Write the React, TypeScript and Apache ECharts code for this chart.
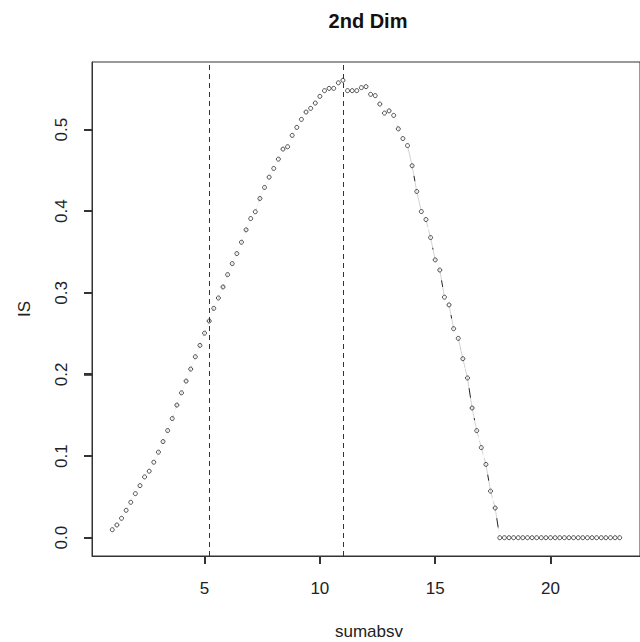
import React, { useEffect, useRef } from "react";
import * as echarts from "echarts";

const xValues = [
  1, 1.2, 1.4, 1.6, 1.8, 2, 2.2, 2.4, 2.6, 2.8,
  3, 3.2, 3.4, 3.6, 3.8, 4, 4.2, 4.4, 4.6, 4.8,
  5, 5.2, 5.4, 5.6, 5.8, 6, 6.2, 6.4, 6.6, 6.8,
  7, 7.2, 7.4, 7.6, 7.8, 8, 8.2, 8.4, 8.6, 8.8,
  9, 9.2, 9.4, 9.6, 9.8, 10, 10.2, 10.4, 10.6, 10.8,
  11, 11.2, 11.4, 11.6, 11.8, 12, 12.2, 12.4, 12.6, 12.8,
  13, 13.2, 13.4, 13.6, 13.8, 14, 14.2, 14.4, 14.6, 14.8,
  15, 15.2, 15.4, 15.6, 15.8, 16, 16.2, 16.4, 16.6, 16.8,
  17, 17.2, 17.4, 17.6, 17.8, 18, 18.2, 18.4, 18.6, 18.8,
  19, 19.2, 19.4, 19.6, 19.8, 20, 20.2, 20.4, 20.6, 20.8,
  21, 21.2, 21.4, 21.6, 21.8, 22, 22.2, 22.4, 22.6, 22.8,
  23,
];

const isValues = [
  0.0098, 0.0156, 0.0238, 0.0336, 0.0434, 0.054, 0.0638, 0.0745, 0.0815, 0.0925,
  0.1048, 0.1178, 0.1313, 0.146, 0.1625, 0.1775, 0.1919, 0.2066, 0.2217, 0.2356,
  0.2506, 0.2655, 0.281, 0.2937, 0.3072, 0.3223, 0.3358, 0.3481, 0.362, 0.3772,
  0.391, 0.3993, 0.4156, 0.4291, 0.4417, 0.4524, 0.4638, 0.4761, 0.479, 0.4929,
  0.5027, 0.5125, 0.5215, 0.526, 0.5325, 0.5407, 0.5477, 0.5505, 0.5505, 0.5573,
  0.5604, 0.5477, 0.5477, 0.5477, 0.5514, 0.5526, 0.5432, 0.5416, 0.5313, 0.5202,
  0.5229, 0.5174, 0.5009, 0.489, 0.4804, 0.4557, 0.4242, 0.3996, 0.3898, 0.3677,
  0.3404, 0.3279, 0.2947, 0.2852, 0.2561, 0.2442, 0.2193, 0.1957, 0.1589, 0.1312,
  0.1104, 0.0898, 0.0571, 0.0364, 0, 0, 0, 0, 0, 0,
  0, 0, 0, 0, 0, 0, 0, 0, 0, 0,
  0, 0, 0, 0, 0, 0, 0, 0, 0, 0,
  0,
];

const cutoffs = [5.2, 11.0];
const xTicks = [5, 10, 15, 20];
const yTicks = [0, 0.1, 0.2, 0.3, 0.4, 0.5];

const X_MIN = 0.12;
const X_MAX = 23.88;
const Y_MIN = -0.0224;
const Y_MAX = 0.5828;

const TITLE = "2nd Dim";
const X_NAME = "sumabsv";
const Y_NAME = "IS";

const FONT = '"Liberation Sans", Arial, sans-serif';
const INK = "#222";
const TICK_LEN = 8;

export default function App() {
  const ref = useRef<HTMLDivElement>(null);

  useEffect(() => {
    if (!ref.current) return;
    const chart = echarts.init(ref.current, null, { renderer: "svg" });
    const pts = xValues.map((x, i) => [x, isValues[i]]);

    const textGraphics = [
      {
        type: "text",
        x: 368,
        y: 21,
        style: {
          text: TITLE,
          font: `bold 20px ${FONT}`,
          fill: "#111",
          align: "center",
          verticalAlign: "middle",
          textAlign: "center",
          textVerticalAlign: "middle",
        },
      },
      {
        type: "text",
        x: 369,
        y: 631,
        style: {
          text: X_NAME,
          font: `17px ${FONT}`,
          fill: INK,
          align: "center",
          verticalAlign: "middle",
          textAlign: "center",
          textVerticalAlign: "middle",
        },
      },
      {
        type: "text",
        x: 24,
        y: 309,
        rotation: Math.PI / 2,
        style: {
          text: Y_NAME,
          font: `17px ${FONT}`,
          fill: INK,
          align: "center",
          verticalAlign: "middle",
          textAlign: "center",
          textVerticalAlign: "middle",
        },
      },
    ];

    chart.setOption({
      animation: false,
      backgroundColor: "#fff",
      grid: {
        left: 92,
        top: 62,
        width: 552,
        height: 494,
        show: true,
        borderColor: "#333",
        borderWidth: 1,
        backgroundColor: "transparent",
      },
      xAxis: {
        type: "value",
        position: "bottom",
        min: X_MIN,
        max: X_MAX,
        axisLine: { show: true, onZero: false, lineStyle: { color: "#333", width: 1 } },
        splitLine: { show: false },
        axisTick: {
          show: true,
          inside: false,
          length: TICK_LEN,
          customValues: xTicks,
          lineStyle: { color: "#222", width: 1.5 },
        },
        axisLabel: {
          customValues: xTicks,
          margin: 24,
          fontSize: 17,
          fontFamily: FONT,
          color: INK,
          formatter: (v: number) => String(v),
        },
      },
      yAxis: {
        type: "value",
        position: "left",
        min: Y_MIN,
        max: Y_MAX,
        axisLine: { show: true, onZero: false, lineStyle: { color: "#333", width: 1 } },
        splitLine: { show: false },
        axisTick: {
          show: true,
          inside: false,
          length: TICK_LEN,
          customValues: yTicks,
          lineStyle: { color: "#222", width: 1.5 },
        },
        axisLabel: {
          customValues: yTicks,
          rotate: 90,
          margin: 22,
          fontSize: 17,
          fontFamily: FONT,
          color: INK,
          formatter: (v: number) => v.toFixed(1),
        },
      },
      graphic: textGraphics,
      series: [
        {
          type: "line",
          data: pts,
          symbol: "none",
          silent: true,
          z: 1,
          lineStyle: { color: INK, width: 1 },
        },
        {
          type: "scatter",
          data: pts,
          symbol: "circle",
          symbolSize: 21,
          silent: true,
          z: 2,
          itemStyle: { color: "#fff" },
        },
        {
          type: "scatter",
          data: pts,
          symbol: "circle",
          symbolSize: 4,
          silent: true,
          z: 4,
          itemStyle: { color: "transparent", borderColor: INK, borderWidth: 1 },
          markLine: {
            silent: true,
            symbol: ["none", "none"],
            label: { show: false },
            lineStyle: { color: "#333", width: 1, type: [5, 4] },
            data: cutoffs.map((v) => ({ xAxis: v })),
          },
        },
      ],
    });

    // Extra tick marks placed through the chart's own scales.
    const tickGraphics: any[] = [];
    xTicks.forEach((v) => {
      const p = chart.convertToPixel({ gridIndex: 0 }, [v, Y_MIN]) as number[];
      if (!p || !isFinite(p[0]) || !isFinite(p[1])) return;
      tickGraphics.push({
        type: "rect",
        z: 100,
        shape: { x: Math.round(p[0]) - 1, y: Math.round(p[1]), width: 2, height: TICK_LEN },
        style: { fill: "#333" },
      });
    });
    yTicks.forEach((v) => {
      const p = chart.convertToPixel({ gridIndex: 0 }, [X_MIN, v]) as number[];
      if (!p || !isFinite(p[0]) || !isFinite(p[1])) return;
      tickGraphics.push({
        type: "rect",
        z: 100,
        shape: { x: Math.round(p[0]) - TICK_LEN, y: Math.round(p[1]) - 1, width: TICK_LEN, height: 2 },
        style: { fill: "#333" },
      });
    });
    chart.setOption({ graphic: [...textGraphics, ...tickGraphics] });

    return () => chart.dispose();
  }, []);

  return (
    <div
      ref={ref}
      style={{ position: "fixed", left: 0, top: 0, width: 640, height: 642 }}
    />
  );
}
